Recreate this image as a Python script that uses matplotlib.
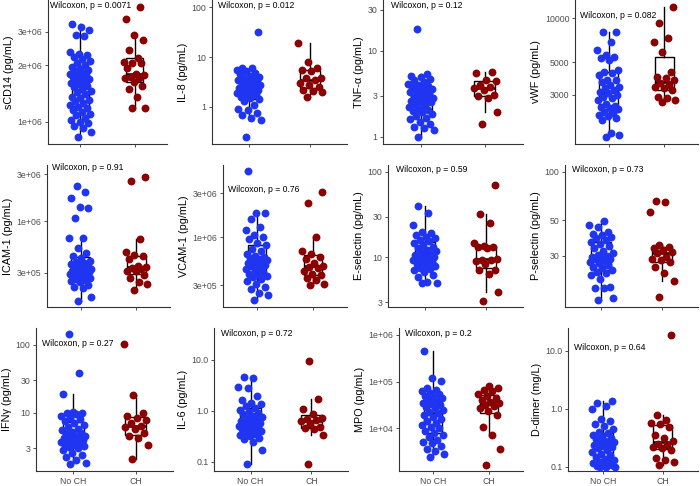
import numpy as np
import matplotlib
matplotlib.use('Agg')
import matplotlib.pyplot as plt
from matplotlib.ticker import FixedLocator, FixedFormatter, NullLocator

plt.rcParams['font.family'] = ['Liberation Sans', 'DejaVu Sans']

groups = ['No CH', 'CH']
blue = '#1f35f2'
red = '#8b0000'

# ---- values ----
scd14_noch = [0.83e6, 0.88e6, 0.92e6, 0.95e6, 0.98e6, 1.0e6, 1.02e6, 1.05e6, 1.08e6, 1.1e6, 1.12e6,
              1.15e6, 1.18e6, 1.2e6, 1.22e6, 1.25e6, 1.28e6, 1.3e6, 1.33e6, 1.36e6, 1.4e6, 1.43e6,
              1.46e6, 1.5e6, 1.52e6, 1.55e6, 1.58e6, 1.6e6, 1.62e6, 1.65e6, 1.68e6, 1.7e6, 1.72e6,
              1.75e6, 1.78e6, 1.8e6, 1.82e6, 1.85e6, 1.88e6, 1.9e6, 1.95e6, 2.0e6, 2.05e6, 2.1e6,
              2.15e6, 2.2e6, 2.25e6, 2.3e6, 2.35e6, 2.85e6, 2.88e6, 3.07e6, 3.2e6, 3.3e6]
scd14_ch = [1.18e6, 1.18e6, 1.36e6, 1.5e6, 1.55e6, 1.63e6, 1.7e6, 1.7e6, 1.73e6, 1.77e6, 1.8e6,
            1.92e6, 2.04e6, 2.04e6, 2.08e6, 2.17e6, 2.4e6, 2.73e6, 2.88e6, 3.51e6, 4.05e6]

il8_noch = [0.25, 0.55, 0.6, 0.68, 0.75, 0.85, 0.9, 1.1, 1.3, 1.4, 1.5, 1.6, 1.7, 1.8, 1.9, 2.0,
            2.1, 2.2, 2.3, 2.4, 2.5, 2.6, 2.7, 2.8, 3.0, 3.1, 3.2, 3.4, 3.5, 3.7, 3.9, 4.2, 4.5,
            4.8, 5.2, 5.6, 5.9, 6.0, 31.4]
il8_ch = [1.6, 2.0, 2.05, 2.2, 2.5, 2.7, 3.0, 3.5, 3.7, 3.8, 5.3, 5.6, 5.9, 8.1, 18.8]

tnf_noch = [1.0, 1.2, 1.25, 1.3, 1.4, 1.5, 1.6, 1.65, 1.75, 1.85, 1.95, 2.0, 2.05, 2.1, 2.2, 2.3,
            2.4, 2.5, 2.55, 2.6, 2.7, 2.75, 2.8, 2.9, 3.0, 3.1, 3.2, 3.3, 3.4, 3.5, 3.6, 3.7, 3.8,
            3.9, 4.0, 4.1, 4.3, 4.5, 4.7, 4.9, 5.1, 5.3, 17.7]
tnf_ch = [1.4, 1.95, 2.85, 3.0, 3.05, 3.5, 3.7, 3.8, 4.0, 4.4, 4.5, 5.5, 5.6]

vwf_noch = [1550, 1590, 1640, 2020, 2080, 2130, 2180, 2250, 2300, 2380, 2420, 2490, 2510, 2600,
            2770, 2850, 2910, 3000, 3100, 3150, 3230, 3320, 3400, 3500, 3650, 3780, 3800, 4090,
            4200, 4320, 4400, 5190, 5330, 5470, 5620, 6070, 6930, 8100, 8100]
vwf_ch = [2690, 2760, 2840, 2900, 3230, 3310, 3400, 3500, 3590, 3780, 3880, 3990, 4320, 5920,
          6920, 7300, 9340, 11900]

icam_noch = [1.56e5, 1.71e5, 2.09e5, 2.16e5, 2.26e5, 2.4e5, 2.5e5, 2.55e5, 2.6e5, 2.65e5, 2.7e5,
             2.75e5, 2.8e5, 2.85e5, 2.9e5, 2.95e5, 3.0e5, 3.05e5, 3.1e5, 3.15e5, 3.2e5, 3.25e5,
             3.3e5, 3.35e5, 3.4e5, 3.5e5, 3.6e5, 3.7e5, 3.8e5, 3.9e5, 4.0e5, 4.2e5, 4.4e5, 4.8e5,
             5.4e5, 6.7e5, 6.8e5, 10.7e5, 13.5e5, 14.0e5, 17.0e5, 19.9e5, 22.7e5]
icam_ch = [2.0e5, 2.3e5, 2.4e5, 2.65e5, 2.85e5, 3.1e5, 3.15e5, 3.3e5, 3.4e5, 3.45e5, 3.5e5, 4.1e5,
           4.4e5, 4.5e5, 4.9e5, 6.6e5, 25.6e5, 28.2e5]

vcam_noch = [2.06e5, 2.33e5, 2.5e5, 2.7e5, 2.9e5, 3.1e5, 3.3e5, 3.5e5, 3.7e5, 3.8e5, 3.9e5, 4.0e5,
             4.2e5, 4.4e5, 4.5e5, 4.6e5, 4.8e5, 5.0e5, 5.2e5, 5.3e5, 5.4e5, 5.5e5, 5.6e5, 5.8e5,
             6.0e5, 6.1e5, 6.3e5, 6.6e5, 7.0e5, 7.5e5, 8.2e5, 8.6e5, 9.5e5, 10.0e5, 10.5e5,
             11.9e5, 13.0e5, 15.6e5, 18.2e5, 18.5e5, 52.5e5]
vcam_ch = [3.05e5, 3.1e5, 3.4e5, 3.6e5, 3.9e5, 4.0e5, 4.3e5, 4.6e5, 4.7e5, 4.9e5, 5.2e5, 5.8e5,
           6.1e5, 6.5e5, 7.1e5, 10.0e5, 23.3e5, 30.8e5]

esel_noch = [5.0, 5.1, 5.2, 5.9, 6.3, 6.8, 7.1, 7.3, 7.6, 7.9, 8.2, 8.5, 8.8, 9.0, 9.3, 9.6, 9.9,
             10.2, 10.5, 10.8, 11.1, 11.5, 11.9, 12.3, 12.8, 13.3, 14.0, 14.6, 15.5, 16.2, 16.7,
             17.5, 18.2, 19.1, 19.9, 23.8, 32.6, 39.8]
esel_ch = [3.1, 4.0, 6.5, 7.1, 7.2, 8.5, 9.0, 9.3, 9.4, 9.6, 12.8, 13.1, 13.3, 13.6, 14.8, 25.0,
           32.0, 69.9]

psel_noch = [15.9, 16.4, 18.8, 19.0, 19.2, 21.5, 22.8, 23.3, 23.8, 24.3, 25.0, 25.6, 26.3, 27.0,
             27.5, 28.0, 28.5, 28.8, 29.2, 29.6, 30.0, 30.5, 31.0, 32.0, 33.3, 34.4, 35.5, 36.6,
             37.5, 38.5, 39.4, 40.3, 40.9, 42.0, 45.4, 46.5, 49.3]
psel_ch = [16.5, 21.0, 23.3, 25.4, 27.5, 28.4, 28.8, 29.6, 31.0, 31.7, 32.5, 33.7, 33.8, 34.9,
           55.8, 64.4, 66.0]

ifng_noch = [1.75, 1.83, 2.0, 2.25, 2.4, 2.6, 2.8, 3.0, 3.1, 3.2, 3.3, 3.4, 3.5, 3.6, 3.7, 3.8,
             3.9, 4.0, 4.1, 4.2, 4.3, 4.4, 4.5, 4.6, 4.8, 5.0, 5.2, 5.5, 5.8, 6.1, 6.5, 7.0, 7.5,
             8.0, 8.5, 9.0, 9.5, 10.0, 10.0, 10.2, 18.9, 38.9, 144]
ifng_ch = [2.1, 3.3, 4.2, 4.5, 5.0, 5.8, 6.2, 6.4, 7.0, 7.8, 8.3, 9.0, 10.0, 18.3, 103]

il6_noch = [0.09, 0.175, 0.25, 0.28, 0.3, 0.32, 0.34, 0.36, 0.38, 0.4, 0.42, 0.44, 0.46, 0.48,
            0.5, 0.52, 0.55, 0.58, 0.6, 0.63, 0.66, 0.7, 0.75, 0.8, 0.85, 0.9, 0.95, 1.05, 1.15,
            1.25, 1.35, 1.45, 1.64, 1.96, 2.77, 3.0, 4.4, 4.7]
il6_ch = [0.09, 0.33, 0.44, 0.46, 0.48, 0.55, 0.62, 0.66, 0.7, 0.74, 0.88, 1.08, 1.7, 9.6]

mpo_noch = [2.5e3, 2.9e3, 3.3e3, 3.6e3, 4.2e3, 4.8e3, 5.2e3, 5.8e3, 6.5e3, 7.2e3, 8.0e3, 9.0e3,
            10e3, 11e3, 12e3, 13e3, 14.5e3, 16e3, 17.5e3, 19e3, 21e3, 23e3, 25e3, 27e3, 29e3,
            31e3, 33e3, 35e3, 38e3, 41e3, 44e3, 47e3, 50e3, 54e3, 58e3, 62e3, 67e3, 72e3,
            105e3, 118e3, 460e3]
mpo_ch = [1.7e3, 3.7e3, 7.2e3, 11e3, 19.3e3, 24e3, 27e3, 30e3, 32e3, 35e3, 37e3, 41e3, 44e3,
          50e3, 55e3, 62e3, 66e3, 74e3, 81e3]

ddim_noch = [0.1, 0.1, 0.1, 0.105, 0.11, 0.11, 0.115, 0.12, 0.12, 0.13, 0.14, 0.15, 0.16, 0.17,
             0.18, 0.2, 0.21, 0.22, 0.23, 0.24, 0.25, 0.26, 0.27, 0.28, 0.3, 0.32, 0.34, 0.36,
             0.38, 0.4, 0.45, 0.5, 0.55, 0.62, 0.68, 1.0, 1.1, 1.25, 1.38]
ddim_ch = [0.11, 0.12, 0.13, 0.145, 0.2, 0.21, 0.22, 0.24, 0.25, 0.28, 0.31, 0.35, 0.49, 0.55,
           0.58, 0.64, 0.78, 18.9]

ylabels = ['sCD14 (pg/mL)', 'IL-8 (pg/mL)', 'TNF-\u03b1 (pg/mL)', 'vWF (pg/mL)',
           'ICAM-1 (pg/mL)', 'VCAM-1 (pg/mL)', 'E-selectin (pg/mL)', 'P-selectin (pg/mL)',
           'IFN\u03b3 (pg/mL)', 'IL-6 (pg/mL)', 'MPO (pg/mL)', 'D-dimer (mg/L)']
pvalues = ['0.0071', '0.012', '0.12', '0.082', '0.91', '0.76', '0.59', '0.73',
           '0.27', '0.72', '0.2', '0.64']
yticks = [[1e6, 2e6, 3e6], [1, 10, 100], [1, 3, 10, 30], [3000, 5000, 10000],
          [3e5, 1e6, 3e6], [3e5, 1e6, 3e6], [3, 10, 30, 100], [30, 50, 100],
          [3, 10, 30, 100], [0.1, 1, 10], [1e4, 1e5, 1e6], [0.1, 1, 10]]
ytick_labels = [['1e+06', '2e+06', '3e+06'], ['1', '10', '100'], ['1', '3', '10', '30'],
                ['3000', '5000', '10000'], ['3e+05', '1e+06', '3e+06'],
                ['3e+05', '1e+06', '3e+06'], ['3', '10', '30', '100'], ['30', '50', '100'],
                ['3', '10', '30', '100'], ['0.1', '1.0', '10.0'], ['1e+04', '1e+05', '1e+06'],
                ['0.1', '1.0', '10.0']]
ylims = [(0.761e6, 4.43e6), (0.177, 140.6), (0.822, 38.8), (1380, 13350),
         (1.356e5, 3.7e6), (1.74e5, 6.1e6), (2.65, 119.6), (14.4, 110),
         (1.39, 176), (0.0665, 42), (1240, 1.39e6), (0.0853, 24.7)]

series = [(scd14_noch, scd14_ch), (il8_noch, il8_ch), (tnf_noch, tnf_ch), (vwf_noch, vwf_ch),
          (icam_noch, icam_ch), (vcam_noch, vcam_ch), (esel_noch, esel_ch), (psel_noch, psel_ch),
          (ifng_noch, ifng_ch), (il6_noch, il6_ch), (mpo_noch, mpo_ch), (ddim_noch, ddim_ch)]

# panel frames in pixels: left, right, top, bottom
frames = [(48, 167, 0, 144), (212, 347, 0, 144), (383, 523, 0, 144), (575, 698, 0, 144),
          (47, 170, 165, 307), (223, 347, 165, 307), (388, 523, 165, 307), (565, 698, 165, 307),
          (36, 173, 328, 471), (214, 348, 328, 471), (399, 523, 328, 471), (568, 698, 328, 471)]
# p-value label anchor (left x, centre y) in pixels
label_pos = [(50, 5), (218, 5), (391, 5), (580, 15), (52, 168), (228, 189), (396, 169),
             (572, 169), (42, 343), (221, 333), (405, 333), (574, 348)]

W, H = 700, 486


def box_stats(vals):
    # quartiles and whiskers on the log10 scale, like ggplot with scale_y_log10
    lv = np.log10(np.asarray(vals, dtype=float))
    q1, med, q3 = np.percentile(lv, [25, 50, 75])
    iqr = q3 - q1
    lo = lv[lv >= q1 - 1.5 * iqr].min()
    hi = lv[lv <= q3 + 1.5 * iqr].max()
    return dict(med=10 ** med, q1=10 ** q1, q3=10 ** q3,
                whislo=10 ** lo, whishi=10 ** hi, fliers=[])


def jitter(n, width=0.2):
    return ((np.arange(n) * 0.618034 + 0.37) % 1 - 0.5) * 2 * width


fig = plt.figure(figsize=(7, 4.86), dpi=100)

for i, (noch, ch) in enumerate(series):
    l, r, t, b = frames[i]
    ax = fig.add_axes([l / W, 1 - b / H, (r - l) / W, (b - t) / H])
    ax.set_yscale('log')

    ax.bxp([box_stats(noch), box_stats(ch)], positions=[1, 2], widths=0.33,
           showcaps=False, showfliers=False, patch_artist=True,
           boxprops=dict(facecolor='none', edgecolor='black', linewidth=1.0),
           whiskerprops=dict(color='black', linewidth=1.0),
           medianprops=dict(color='black', linewidth=1.8))

    for k, (vals, col) in enumerate([(noch, blue), (ch, red)]):
        ax.scatter(k + 1 + jitter(len(vals)), vals, s=32, color=col, linewidths=0, zorder=3)

    ax.set_xlim(0.4, 2.6)
    ax.set_ylim(*ylims[i])
    ax.yaxis.set_major_locator(FixedLocator(yticks[i]))
    ax.yaxis.set_major_formatter(FixedFormatter(ytick_labels[i]))
    ax.yaxis.set_minor_locator(NullLocator())
    ax.set_xticks([1, 2])
    if i >= 8:
        ax.set_xticklabels(groups)
    else:
        ax.set_xticklabels(['', ''])

    ax.set_ylabel(ylabels[i], fontsize=7.8, labelpad=2.5)
    ax.tick_params(labelsize=6.3, labelcolor='#4d4d4d', color='#333333',
                   length=2.5, width=0.6, pad=1.5)
    for side in ['top', 'right']:
        ax.spines[side].set_visible(False)
    for side in ['left', 'bottom']:
        ax.spines[side].set_linewidth(0.8)
        ax.spines[side].set_color('#333333')

    tx, ty = label_pos[i]
    fig.text(tx / W, 1 - ty / H, 'Wilcoxon, p = ' + pvalues[i], fontsize=6.2,
             ha='left', va='center')

fig.savefig('out.png', dpi=100)
